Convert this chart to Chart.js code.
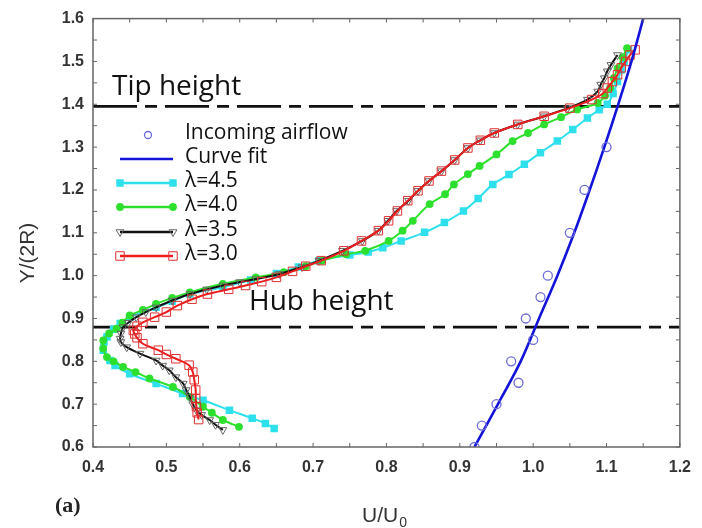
<!DOCTYPE html>
<html><head><meta charset="utf-8">
<script src="https://cdn.jsdelivr.net/npm/chart.js@4.4.0/dist/chart.umd.min.js"></script>
<style>html,body{margin:0;padding:0;background:#fff}#wrap{width:702px;height:528px}</style>
</head><body><div id="wrap"><canvas id="c" width="702" height="528"></canvas></div>
<script>
// ---- data ----
const incomingU = [0.92, 0.93, 0.95, 0.98, 0.97, 1.00, 0.99, 1.01, 1.02, 1.05, 1.07, 1.10];
const incomingY = [0.60, 0.65, 0.70, 0.75, 0.80, 0.85, 0.90, 0.95, 1.00, 1.10, 1.20, 1.30];

const fitU = [0.920, 0.952, 0.983, 1.008, 1.033, 1.056, 1.077, 1.097, 1.116, 1.134, 1.150];
const fitY = [0.60, 0.70, 0.80, 0.90, 1.00, 1.10, 1.20, 1.30, 1.40, 1.50, 1.60];

const y45 = [0.643,0.655,0.667,0.686,0.709,0.725,0.748,0.771,0.790,0.802,0.826,0.845,0.857,0.875,0.888,0.903,0.926,0.940,0.957,0.973,0.990,1.005,1.020,1.035,1.048,1.055,1.065,1.081,1.101,1.124,1.151,1.180,1.213,1.236,1.260,1.287,1.314,1.341,1.368,1.387,1.400,1.425,1.453,1.480,1.500,1.527];
const u45 = [0.647,0.635,0.617,0.586,0.550,0.522,0.486,0.450,0.430,0.423,0.414,0.415,0.419,0.428,0.437,0.450,0.486,0.508,0.532,0.577,0.615,0.650,0.680,0.708,0.750,0.775,0.795,0.820,0.852,0.879,0.905,0.925,0.945,0.967,0.988,1.010,1.033,1.054,1.074,1.090,1.101,1.109,1.115,1.120,1.124,1.130];

const y40 = [0.647,0.663,0.680,0.694,0.717,0.740,0.760,0.775,0.787,0.800,0.810,0.830,0.849,0.865,0.876,0.890,0.907,0.920,0.934,0.948,0.961,0.981,0.996,1.008,1.022,1.035,1.050,1.058,1.081,1.105,1.128,1.167,1.190,1.213,1.237,1.256,1.283,1.314,1.333,1.353,1.370,1.388,1.403,1.420,1.438,1.461,1.484,1.510,1.531];
const u40 = [0.599,0.577,0.562,0.550,0.532,0.509,0.477,0.458,0.441,0.428,0.419,0.414,0.414,0.422,0.432,0.440,0.450,0.468,0.486,0.508,0.532,0.577,0.622,0.660,0.690,0.712,0.745,0.771,0.803,0.822,0.836,0.859,0.880,0.892,0.911,0.927,0.950,0.972,0.993,1.015,1.038,1.060,1.088,1.098,1.105,1.110,1.115,1.122,1.128];

const y35 = [0.640,0.652,0.663,0.675,0.686,0.700,0.717,0.733,0.748,0.763,0.779,0.790,0.802,0.818,0.833,0.845,0.853,0.865,0.880,0.890,0.903,0.915,0.926,0.942,0.957,0.968,0.977,0.985,0.992,1.004,1.020,1.035,1.058,1.081,1.105,1.128,1.151,1.175,1.198,1.221,1.244,1.270,1.298,1.316,1.333,1.353,1.372,1.391,1.411,1.430,1.446,1.461,1.477,1.492,1.515];
const u35 = [0.577,0.567,0.559,0.548,0.541,0.536,0.532,0.527,0.523,0.513,0.504,0.495,0.486,0.464,0.446,0.438,0.437,0.438,0.441,0.448,0.459,0.472,0.486,0.508,0.532,0.555,0.577,0.600,0.622,0.654,0.685,0.708,0.740,0.767,0.789,0.802,0.814,0.830,0.843,0.858,0.875,0.893,0.911,0.928,0.947,0.979,1.015,1.047,1.074,1.088,1.092,1.097,1.101,1.106,1.115];

const y30 = [0.664,0.680,0.694,0.713,0.733,0.757,0.775,0.791,0.806,0.816,0.826,0.841,0.855,0.864,0.872,0.882,0.891,0.903,0.915,0.930,0.945,0.957,0.968,0.977,0.986,0.996,1.010,1.022,1.035,1.058,1.081,1.105,1.128,1.151,1.175,1.198,1.221,1.244,1.270,1.298,1.316,1.333,1.353,1.372,1.391,1.411,1.425,1.438,1.453,1.469,1.485,1.500,1.515,1.527];
const u30 = [0.544,0.542,0.541,0.540,0.540,0.538,0.536,0.531,0.513,0.500,0.489,0.468,0.460,0.457,0.455,0.460,0.468,0.484,0.500,0.515,0.535,0.556,0.585,0.608,0.630,0.650,0.672,0.690,0.711,0.742,0.766,0.789,0.803,0.815,0.829,0.843,0.858,0.875,0.893,0.911,0.928,0.947,0.979,1.015,1.050,1.080,1.095,1.101,1.108,1.115,1.120,1.126,1.132,1.139];

const tipY = 1.395;
const hubY = 0.88;
const xRange = [0.4, 1.2];
const yRange = [0.6, 1.6];
const legendLabels = ['Incoming airflow', 'Curve fit', 'λ=4.5', 'λ=4.0', 'λ=3.5', 'λ=3.0'];

// ---- styles ----
const C45 = '#2ee0ec', C40 = '#2ee02e', C35 = '#111111', C30 = '#ee1c1c', CFIT = '#1414d8', CIN = '#6b6bd8';
const pts = (us, ys) => ys.map((y, i) => ({x: us[i], y}));

const datasets = [
  {label:'in', data: pts(incomingU, incomingY), showLine:false, pointStyle:'circle', pointRadius:4.5,
   borderColor:CIN, backgroundColor:'rgba(0,0,0,0)', pointBorderWidth:1.3, order:0},
  {label:'fit', data: pts(fitU, fitY), showLine:true, borderColor:CFIT, borderWidth:2.6, pointRadius:0, tension:0.3, order:1},
  {label:'30', data: pts(u30, y30), showLine:true, borderColor:C30, borderWidth:2, tension:0.35,
   pointStyle:'rect', pointRadius:6, pointBorderColor:'#e03030', pointBackgroundColor:'rgba(0,0,0,0)', pointBorderWidth:1, order:2},
  {label:'35', data: pts(u35, y35), showLine:true, borderColor:C35, borderWidth:2, tension:0.35,
   pointStyle:'triangle', pointRotation:180, pointRadius:4.5, pointBorderColor:'#666', pointBackgroundColor:'rgba(0,0,0,0)', pointBorderWidth:1, order:3},
  {label:'40', data: pts(u40, y40), showLine:true, borderColor:C40, borderWidth:2, tension:0.35,
   pointStyle:'circle', pointRadius:3.9, pointBorderColor:C40, pointBackgroundColor:C40, pointBorderWidth:0, order:4},
  {label:'45', data: pts(u45, y45), showLine:true, borderColor:C45, borderWidth:2, tension:0.35,
   pointStyle:'rect', pointRadius:5.3, pointBorderColor:C45, pointBackgroundColor:C45, pointBorderWidth:0, order:5},
  {label:'tip', data: [{x:xRange[0], y:tipY}, {x:xRange[1], y:tipY}], showLine:true, borderColor:'#111', borderWidth:2.8,
   borderDash:[44,8,12,8], pointRadius:0, order:6},
  {label:'hub', data: [{x:xRange[0], y:hubY}, {x:xRange[1], y:hubY}], showLine:true, borderColor:'#111', borderWidth:2.8,
   borderDash:[44,8,12,8], pointRadius:0, order:6}
];

function marker(ctx, style, x, y, r, stroke, fill, lw) {
  ctx.save();
  ctx.beginPath();
  if (style === 'circle') ctx.arc(x, y, r, 0, Math.PI * 2);
  else if (style === 'rect') { const s = Math.SQRT1_2 * r; ctx.rect(x - s, y - s, 2 * s, 2 * s); }
  else if (style === 'tri') { ctx.moveTo(x - r * 0.866, y - r * 0.5); ctx.lineTo(x + r * 0.866, y - r * 0.5); ctx.lineTo(x, y + r); ctx.closePath(); }
  if (fill) { ctx.fillStyle = fill; ctx.fill(); }
  if (stroke) { ctx.strokeStyle = stroke; ctx.lineWidth = lw; ctx.stroke(); }
  ctx.restore();
}

const deco = {
  id: 'deco',
  afterDraw(chart) {
    const ctx = chart.ctx, a = chart.chartArea, sx = chart.scales.x, sy = chart.scales.y;
    ctx.save();
    // frame
    ctx.strokeStyle = '#666'; ctx.lineWidth = 1.5;
    ctx.strokeRect(a.left, a.top, a.right - a.left, a.bottom - a.top);
    // inward ticks
    ctx.lineWidth = 1; ctx.strokeStyle = '#666';
    for (let i = 0; i <= 16; i++) {
      const px = sx.getPixelForValue(xRange[0] + i * 0.05);
      ctx.beginPath(); ctx.moveTo(px, a.bottom); ctx.lineTo(px, a.bottom - 4);
      ctx.moveTo(px, a.top); ctx.lineTo(px, a.top + 4); ctx.stroke();
    }
    for (let i = 0; i <= 20; i++) {
      const py = sy.getPixelForValue(yRange[0] + i * 0.05);
      ctx.beginPath(); ctx.moveTo(a.left, py); ctx.lineTo(a.left + 4, py);
      ctx.moveTo(a.right, py); ctx.lineTo(a.right - 4, py); ctx.stroke();
    }
    // annotations
    ctx.fillStyle = '#111'; ctx.textBaseline = 'alphabetic'; ctx.textAlign = 'left';
    ctx.font = '28px "Open Sans"';
    ctx.fillText('Tip height', 112, 95);
    ctx.fillText('Hub height', 249, 310);
    // legend
    const lx0 = 120, lx1 = 173, tx = 185;
    const rows = [135, 159, 183, 207, 232, 256];
    ctx.font = '21px "Open Sans"'; ctx.textBaseline = 'middle'; ctx.fillStyle = '#111';
    marker(ctx, 'circle', 148, rows[0], 3.5, CIN, null, 1.3);
    const line = (y, col) => { ctx.beginPath(); ctx.strokeStyle = col; ctx.lineWidth = 2.4; ctx.moveTo(lx0, y); ctx.lineTo(lx1, y); ctx.stroke(); };
    line(rows[1], CFIT);
    line(rows[2], C45); marker(ctx, 'rect', lx0, rows[2], 5.3, null, C45, 0); marker(ctx, 'rect', lx1, rows[2], 5.3, null, C45, 0);
    line(rows[3], C40); marker(ctx, 'circle', lx0, rows[3], 3.9, null, C40, 0); marker(ctx, 'circle', lx1, rows[3], 3.9, null, C40, 0);
    line(rows[4], C35); marker(ctx, 'tri', lx0, rows[4], 4.5, '#666', null, 1); marker(ctx, 'tri', lx1, rows[4], 4.5, '#666', null, 1);
    line(rows[5], C30); marker(ctx, 'rect', lx0, rows[5], 6, '#e03030', null, 1); marker(ctx, 'rect', lx1, rows[5], 6, '#e03030', null, 1);
    legendLabels.forEach((t, i) => { ctx.fillStyle = '#111'; ctx.fillText(t, tx, rows[i] - 2); });
    // axis titles
    ctx.fillStyle = '#333'; ctx.font = '21px "Liberation Sans"'; ctx.textAlign = 'left'; ctx.textBaseline = 'alphabetic';
    ctx.fillText('U/U', 362, 522);
    const w = ctx.measureText('U/U').width;
    ctx.font = '14px "Liberation Sans"';
    ctx.fillText('0', 362 + w + 1, 527);
    ctx.save();
    ctx.translate(34, 253); ctx.rotate(-Math.PI / 2);
    ctx.font = '21px "Liberation Sans"'; ctx.textAlign = 'center'; ctx.fillStyle = '#333';
    ctx.fillText('Y/(2R)', 0, 0);
    ctx.restore();
    ctx.font = 'bold 22px "Liberation Serif"'; ctx.fillStyle = '#222'; ctx.textAlign = 'left';
    ctx.fillText('(a)', 55, 512);
    ctx.restore();
  }
};

new Chart(document.getElementById('c'), {
  type: 'scatter',
  data: { datasets },
  options: {
    responsive: false, animation: false, events: [],
    layout: { padding: { left: 0, right: 19, top: 17, bottom: 0 } },
    plugins: { legend: { display: false }, tooltip: { enabled: false } },
    scales: {
      x: { type: 'linear', min: xRange[0], max: xRange[1],
        grid: { display: false, drawTicks: false }, border: { display: false },
        ticks: { stepSize: 0.1, padding: 11, color: '#333', font: { family: 'Liberation Sans', size: 16, weight: 'bold' },
          callback: v => v.toFixed(1) },
        afterFit: s => { s.height = 81; } },
      y: { type: 'linear', min: yRange[0], max: yRange[1],
        grid: { display: false, drawTicks: false }, border: { display: false },
        ticks: { stepSize: 0.1, padding: 9, color: '#333', font: { family: 'Liberation Sans', size: 16, weight: 'bold' },
          callback: v => v.toFixed(1) },
        afterFit: s => { s.width = 93; } }
    }
  },
  plugins: [deco]
});
</script></body></html>
